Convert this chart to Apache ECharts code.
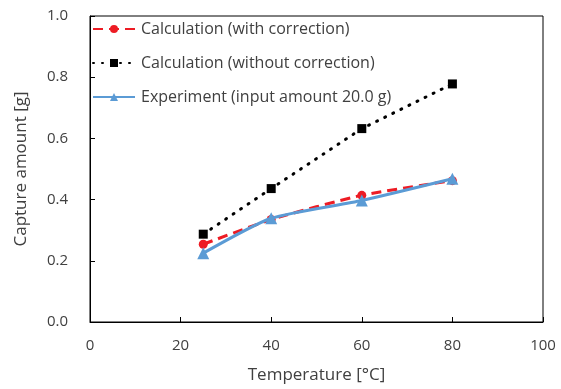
<!DOCTYPE html>
<html>
<head>
<meta charset="utf-8">
<script src="https://cdn.jsdelivr.net/npm/echarts@6/dist/echarts.min.js"></script>
<style>
  html, body { margin: 0; padding: 0; background: #fff; }
  #chart { width: 561px; height: 389px; }
</style>
</head>
<body>
<div id="chart"></div>
<script>
var temps = [25, 40, 60, 80];
var withCorrection = [0.254, 0.335, 0.414, 0.462];
var withoutCorrection = [0.287, 0.436, 0.632, 0.778];
var experiment = [0.225, 0.339, 0.397, 0.468];

function pairs(xs, ys) {
    return xs.map(function (x, i) { return [x, ys[i]]; });
}

var font = '"Open Sans", "Noto Sans", sans-serif';
var textColor = '#404040';

var chart = echarts.init(document.getElementById('chart'));
chart.setOption({
    animation: false,
    textStyle: { fontFamily: font },
    grid: {
        left: 90, right: 18, top: 16, bottom: 66,
        show: true, borderColor: '#000', borderWidth: 1
    },
    legend: {
        orient: 'vertical',
        left: 92, top: 21,
        padding: 0,
        itemWidth: 42, itemHeight: 10,
        itemGap: 18,
        textStyle: { fontSize: 16, color: textColor, fontFamily: font, padding: [0, 0, 0, 1] },
        data: ['Calculation (with correction)', 'Calculation (without correction)', 'Experiment (input amount 20.0 g)']
    },
    xAxis: {
        type: 'value',
        min: 0, max: 100, interval: 20,
        name: 'Temperature [°C]',
        nameLocation: 'middle',
        nameGap: 45,
        nameTextStyle: { fontSize: 17, color: textColor },
        axisLine: { show: true, lineStyle: { color: '#000' } },
        axisTick: { show: true, inside: true, length: 5, lineStyle: { color: '#000' } },
        axisLabel: { fontSize: 15, color: textColor, margin: 16 },
        splitLine: { show: false }
    },
    yAxis: {
        type: 'value',
        min: 0, max: 1.0, interval: 0.2,
        name: 'Capture amount [g]',
        nameLocation: 'middle',
        nameGap: 60,
        nameTextStyle: { fontSize: 17, color: textColor },
        axisLine: { show: true, lineStyle: { color: '#000' } },
        axisTick: { show: true, inside: true, length: 5, lineStyle: { color: '#000' } },
        axisLabel: {
            fontSize: 15, color: textColor, margin: 22,
            formatter: function (v) { return v.toFixed(1); }
        },
        splitLine: { show: false }
    },
    series: [
        {
            name: 'Calculation (with correction)',
            type: 'line',
            data: pairs(temps, withCorrection),
            smooth: 0.2,
            symbol: 'circle', symbolSize: 9,
            itemStyle: { color: '#ED1C24' },
            lineStyle: { color: '#ED1C24', width: 3, type: [10, 6] },
            z: 2
        },
        {
            name: 'Calculation (without correction)',
            type: 'line',
            data: pairs(temps, withoutCorrection),
            symbol: 'rect', symbolSize: 9,
            itemStyle: { color: '#000' },
            lineStyle: { color: '#000', width: 3, type: [1, 8], cap: 'round' },
            z: 3
        },
        {
            name: 'Experiment (input amount 20.0 g)',
            type: 'line',
            data: pairs(temps, experiment),
            smooth: 0.2,
            symbol: 'triangle', symbolSize: 12,
            itemStyle: { color: '#5B9BD5' },
            lineStyle: { color: '#5B9BD5', width: 3 },
            z: 4
        }
    ]
});
</script>
</body>
</html>
